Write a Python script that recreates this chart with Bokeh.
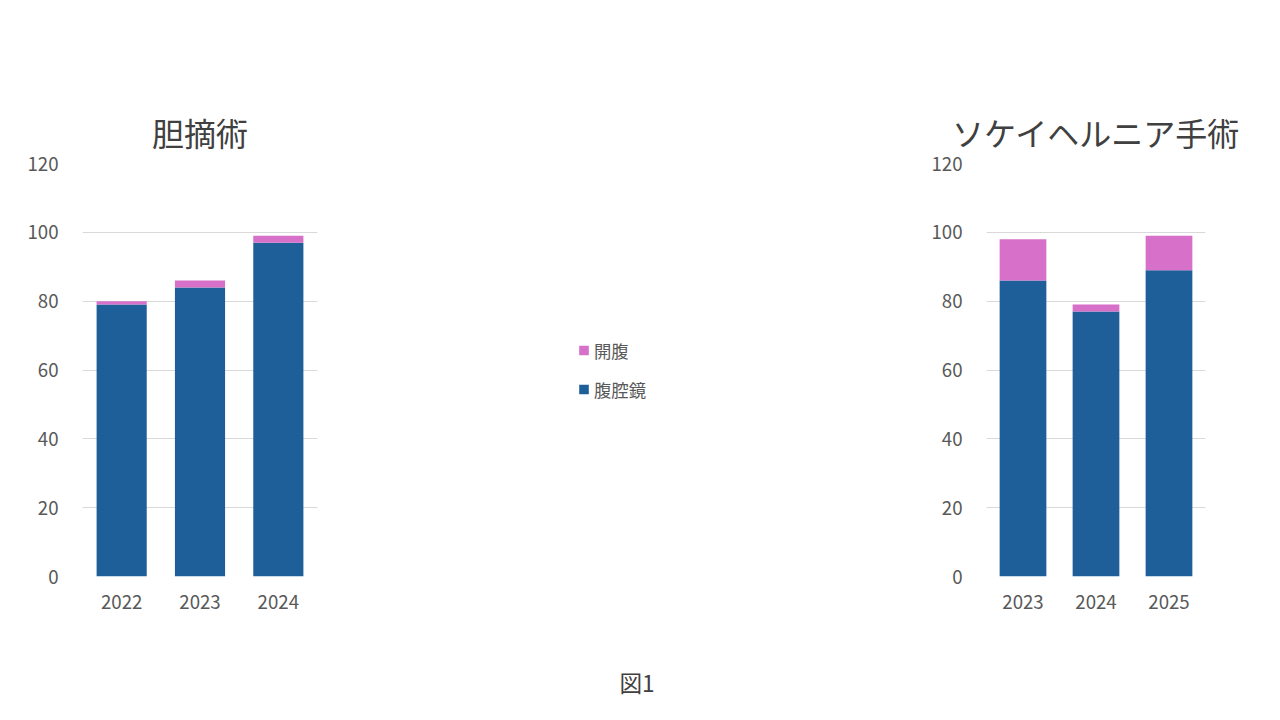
from bokeh.plotting import figure
from bokeh.layouts import row, column
from bokeh.models import Div, Legend, LegendItem, FixedTicker
from bokeh.embed import file_html
from bokeh.resources import INLINE

FONT = "Noto Sans CJK JP"
BLUE = "#1f5f99"
PINK = "#d670c9"

titles = ["胆摘術", "ソケイヘルニア手術", "虫垂切除術"]
years = [["2022", "2023", "2024"], ["2023", "2024", "2025"], ["2023", "2024", "2025"]]
lap = [[79, 84, 97], [86, 77, 89], [55, 62, 69]]
other = [[1, 2, 2], [12, 2, 10], [3, 0, 2]]
other_names = ["開腹", "前方", "開腹"]
lap_name = "腹腔鏡"
ymax = [120, 120, 80]
ystep = [20, 20, 10]
borders = [(235, 82, 103), (219, 80, 123), (227, 58, 137)]

figs = []
for i in range(3):
    fw, bl, br = borders[i]
    p = figure(x_range=years[i], y_range=(0, ymax[i]), frame_width=fw, frame_height=413,
               output_backend="svg", toolbar_location=None,
               min_border_left=bl, min_border_right=br, min_border_top=163, min_border_bottom=66)
    src = dict(x=years[i], lap=lap[i], oth=other[i])
    r = p.vbar_stack(["lap", "oth"], x="x", width=0.64, color=[BLUE, PINK], source=src, line_color=None)
    p.title.text = titles[i]
    p.title.align = "center"
    p.title.text_font = FONT
    p.title.text_font_size = "24pt"
    p.title.text_font_style = "normal"
    p.title.text_color = "#404040"
    p.title.standoff = 18
    p.yaxis.ticker = FixedTicker(ticks=list(range(0, ymax[i] + 1, ystep[i])))
    for ax in (p.xaxis, p.yaxis):
        ax.axis_line_color = None
        ax.major_tick_line_color = None
        ax.minor_tick_line_color = None
        ax.major_label_text_font = FONT
        ax.major_label_text_font_size = "14pt"
        ax.major_label_text_color = "#595959"
    p.yaxis.major_label_standoff = 18
    p.xaxis.major_label_standoff = 12
    p.xgrid.grid_line_color = None
    p.ygrid.grid_line_color = "#d9d9d9"
    p.outline_line_color = None
    leg = Legend(items=[LegendItem(label=other_names[i], renderers=[r[1]]),
                        LegendItem(label=lap_name, renderers=[r[0]])],
                 location="center", border_line_color=None,
                 label_text_font=FONT, label_text_font_size="13pt", label_text_color="#595959",
                 glyph_width=12, glyph_height=12, spacing=14, margin=16, padding=4)
    p.add_layout(leg, "right")
    figs.append(p)

cap = Div(text="図1", width=1264, height=40,
          styles={"text-align": "center", "font-family": FONT, "font-size": "17pt",
                  "color": "#404040", "padding-top": "20px"})
layout = column(row(*figs), cap)
open("out.html", "w").write(file_html(layout, INLINE))
